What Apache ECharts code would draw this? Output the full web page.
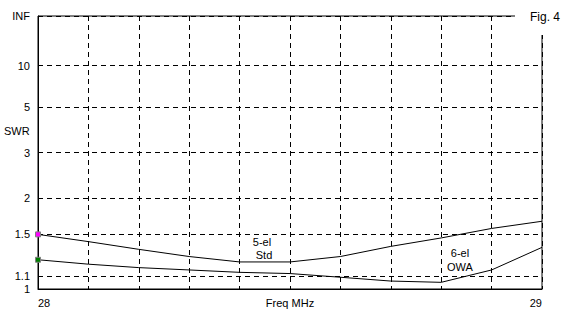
<!DOCTYPE html>
<html><head><meta charset="utf-8">
<script src="https://cdn.jsdelivr.net/npm/echarts@6/dist/echarts.min.js"></script>
<style>html,body{margin:0;padding:0;background:#fff}#c{width:572px;height:321px}</style>
</head><body><div id="c"></div>
<script>
// Frequency (MHz)
const freqs = [28.0, 28.1, 28.2, 28.3, 28.4, 28.5, 28.6, 28.7, 28.8, 28.9, 29.0];
// SWR values
const swr5elStd = [1.50, 1.42, 1.34, 1.27, 1.22, 1.22, 1.27, 1.37, 1.46, 1.57, 1.66];
const swr6elOWA = [1.24, 1.20, 1.17, 1.15, 1.13, 1.12, 1.09, 1.06, 1.05, 1.15, 1.36];
// SWR axis ticks
const swrTicks = [1, 1.1, 1.5, 2, 3, 5, 10, Infinity];
const swrTickLabels = ['1', '1.1', '1.5', '2', '3', '5', '10', 'INF'];
const xTickLabels = ['28', '29'];

// SWR scale is linear in reflection coefficient
function rho(s) { return s === Infinity ? 1 : (s - 1) / (s + 1); }
const tickRho = swrTicks.map(rho);

const FONT = 'Liberation Sans, Arial, sans-serif';
const chart = echarts.init(document.getElementById('c'), null, {renderer: 'svg'});
chart.setOption({
  animation: false,
  backgroundColor: '#fff',
  title: {
    text: 'Fig. 4', left: 515, top: 0,
    padding: [11, 13, 12, 15],
    backgroundColor: '#fff',
    textStyle: {fontFamily: FONT, fontSize: 12, fontWeight: 'normal', color: '#000'}
  },
  grid: {left: 38, right: 30, top: 16, bottom: 32, show: true, borderColor: '#000', borderWidth: 1,
         containLabel: false, outerBoundsMode: 'none'},
  xAxis: {
    type: 'value', min: 28, max: 29, interval: 0.1,
    name: 'Freq MHz', nameLocation: 'middle', nameGap: 8, nameMoveOverlap: false,
    nameTextStyle: {fontFamily: FONT, fontSize: 11, color: '#000', verticalAlign: 'top'},
    axisLine: {show: true, lineStyle: {color: '#000'}},
    axisTick: {show: false},
    axisLabel: {
      interval: 0, margin: 8, fontFamily: FONT, fontSize: 11, color: '#000',
      alignMinLabel: 'left', alignMaxLabel: 'right', showMinLabel: true, showMaxLabel: true,
      formatter: function (v) {
        if (Math.abs(v - 28) < 1e-6) return xTickLabels[0];
        if (Math.abs(v - 29) < 1e-6) return xTickLabels[1];
        return '';
      }
    },
    splitLine: {show: true, lineStyle: {color: '#000', type: [5, 4], width: 1}}
  },
  yAxis: {
    type: 'value', min: 0, max: 1,
    axisLine: {show: true, lineStyle: {color: '#000'}},
    axisTick: {show: false, customValues: tickRho},
    axisLabel: {
      customValues: tickRho, margin: 8, fontFamily: FONT, fontSize: 11, color: '#000',
      formatter: function (v) {
        for (let i = 0; i < tickRho.length; i++) if (Math.abs(tickRho[i] - v) < 1e-6) return swrTickLabels[i];
        return '';
      }
    },
    splitLine: {show: true, lineStyle: {color: '#000', type: [5, 4], width: 1}}
  },
  graphic: [
    {type: 'text', left: 4, top: 125, style: {text: 'SWR', font: '11px ' + FONT, fill: '#000'}},
    {type: 'text', x: 262, y: 242, style: {text: '5-el', font: '11px ' + FONT, fill: '#000', align: 'center', verticalAlign: 'middle'}},
    {type: 'text', x: 264, y: 255, style: {text: 'Std', font: '11px ' + FONT, fill: '#000', align: 'center', verticalAlign: 'middle'}},
    {type: 'text', x: 460, y: 253, style: {text: '6-el', font: '11px ' + FONT, fill: '#000', align: 'center', verticalAlign: 'middle'}},
    {type: 'text', x: 460, y: 267, style: {text: 'OWA', font: '11px ' + FONT, fill: '#000', align: 'center', verticalAlign: 'middle'}}
  ],
  series: [
    {
      name: '5-el Std', type: 'line',
      data: freqs.map((f, i) => [f, rho(swr5elStd[i])]),
      lineStyle: {color: '#000', width: 1},
      symbol: (v, p) => p.dataIndex === 0 ? 'rect' : 'none', symbolSize: 5,
      itemStyle: {color: '#ff00ff', borderColor: '#808080', borderWidth: 1}
    },
    {
      name: '6-el OWA', type: 'line',
      data: freqs.map((f, i) => [f, rho(swr6elOWA[i])]),
      lineStyle: {color: '#000', width: 1},
      symbol: (v, p) => p.dataIndex === 0 ? 'rect' : 'none', symbolSize: 5,
      itemStyle: {color: '#008000', borderColor: '#808080', borderWidth: 1}
    }
  ]
});
</script>
</body></html>
